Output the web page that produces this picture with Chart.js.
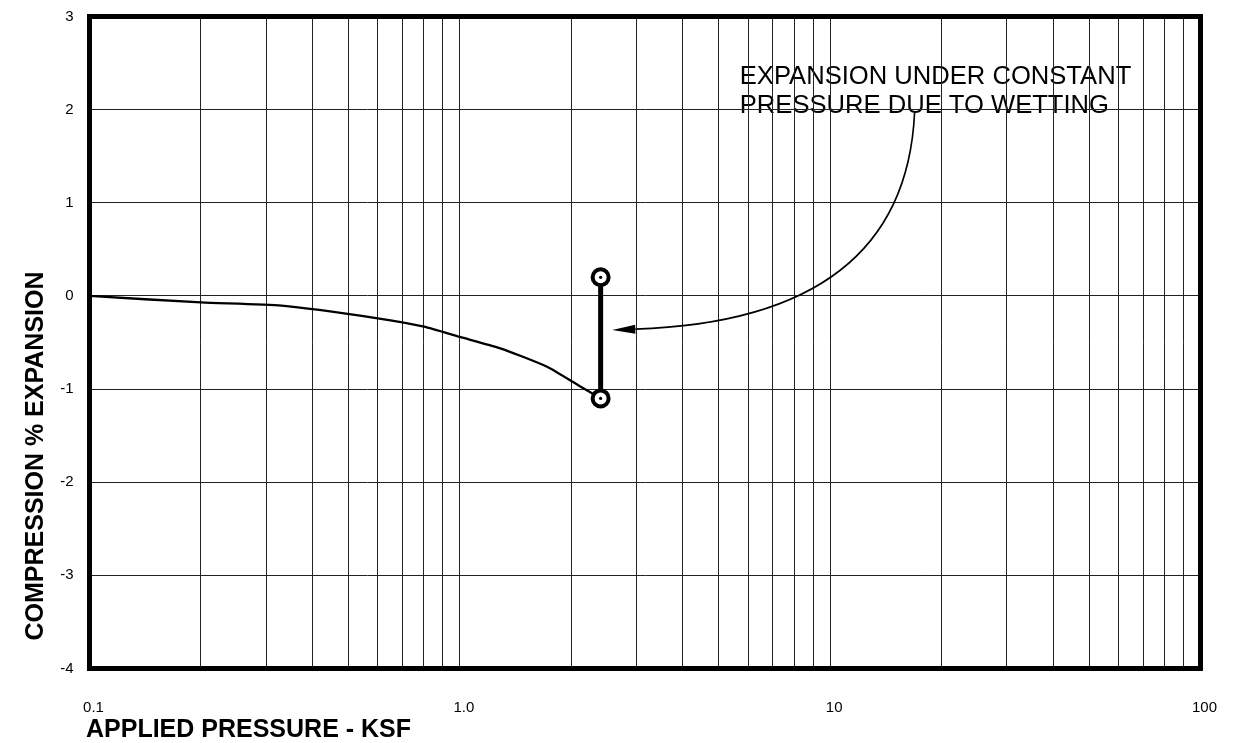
<!DOCTYPE html>
<html>
<head>
<meta charset="utf-8">
<script src="https://cdn.jsdelivr.net/npm/chart.js@4/dist/chart.umd.min.js"></script>
<style>
  body { margin: 0; background: #fff; }
  canvas { display: block; }
</style>
</head>
<body>
<canvas id="myChart" width="1235" height="743"></canvas>
<script>
'use strict'

// consolidation / swell test curve (pressure in ksf, strain in %)
const pressure = [0.1, 0.2, 0.33, 0.6, 0.8, 1.0, 1.28, 1.72, 2.11, 2.4];
const strain   = [0, -0.07, -0.105, -0.24, -0.33, -0.44, -0.56, -0.76, -0.97, -1.1];

// wetting step at constant pressure
const wetPressure = [2.4, 2.4];
const wetStrain   = [-1.1, 0.2];

// axis ticks
const xGrid = [0.1, 0.2, 0.3, 0.4, 0.5, 0.6, 0.7, 0.8, 0.9,
               1, 2, 3, 4, 5, 6, 7, 8, 9,
               10, 20, 30, 40, 50, 60, 70, 80, 90, 100];
const xLabelValues = [0.1, 1, 10, 100];
const xLabelText   = ['0.1', '1.0', '10', '100'];
const yTicks = [-4, -3, -2, -1, 0, 1, 2, 3];

// note text and arrow, anchored in data units
const noteLines = ['EXPANSION UNDER CONSTANT', 'PRESSURE DUE TO WETTING'];
const noteX = 5.7;
const noteY = [2.28, 1.965];
const arrowFrom = {x: 16.9, y: 1.965};
const arrowCtrl = {x: 15.9, y: -0.26};
const arrowTo   = {x: 2.58, y: -0.365};

const FONT = "'Liberation Sans', Arial, Helvetica, sans-serif";

function toPts(xs, ys) {
  return xs.map((x, i) => ({x: x, y: ys[i]}));
}

function noOverhang(scale) {
  scale.paddingTop = 0;
  scale.paddingBottom = 0;
  scale.paddingLeft = 0;
  scale.paddingRight = 0;
}

const extras = {
  id: 'extras',
  beforeDraw(chart) {
    const ctx = chart.ctx;
    const xs = chart.scales.x, ys = chart.scales.y;
    ctx.save();
    ctx.fillStyle = '#000';
    ctx.font = '25.6px ' + FONT;
    ctx.textBaseline = 'alphabetic';
    ctx.textAlign = 'left';
    noteLines.forEach((t, i) => {
      ctx.fillText(t, xs.getPixelForValue(noteX), ys.getPixelForValue(noteY[i]));
    });
    ctx.restore();
  },
  afterDatasetsDraw(chart) {
    const ctx = chart.ctx;
    const xs = chart.scales.x, ys = chart.scales.y;
    const p0 = {x: xs.getPixelForValue(arrowFrom.x), y: ys.getPixelForValue(arrowFrom.y)};
    const c  = {x: xs.getPixelForValue(arrowCtrl.x), y: ys.getPixelForValue(arrowCtrl.y)};
    const tip = {x: xs.getPixelForValue(arrowTo.x), y: ys.getPixelForValue(arrowTo.y)};
    const headLen = 23;
    const ang = Math.atan2(tip.y - c.y, tip.x - c.x);
    const base = {x: tip.x - headLen * Math.cos(ang), y: tip.y - headLen * Math.sin(ang)};
    ctx.save();
    ctx.strokeStyle = '#000';
    ctx.lineWidth = 1.6;
    ctx.beginPath();
    ctx.moveTo(p0.x, p0.y);
    ctx.quadraticCurveTo(c.x, c.y, base.x, base.y);
    ctx.stroke();
    // head
    const w = 4.5;
    ctx.fillStyle = '#000';
    ctx.beginPath();
    ctx.moveTo(tip.x, tip.y);
    ctx.lineTo(base.x + w * Math.sin(ang), base.y - w * Math.cos(ang));
    ctx.lineTo(base.x - w * Math.sin(ang), base.y + w * Math.cos(ang));
    ctx.closePath();
    ctx.fill();
    ctx.restore();
  },
  afterDraw(chart) {
    const ctx = chart.ctx;
    const a = chart.chartArea;
    ctx.save();
    // heavy frame
    ctx.strokeStyle = '#000';
    ctx.lineWidth = 5;
    ctx.strokeRect(a.left, a.top, a.right - a.left, a.bottom - a.top);
    // axis titles
    ctx.fillStyle = '#000';
    ctx.font = 'bold 25px ' + FONT;
    ctx.textAlign = 'left';
    ctx.textBaseline = 'alphabetic';
    ctx.fillText('APPLIED PRESSURE - KSF', 86, 737);
    ctx.translate(43, 456);
    ctx.rotate(-Math.PI / 2);
    ctx.textAlign = 'center';
    ctx.fillText('COMPRESSION % EXPANSION', 0, 0);
    ctx.restore();
  }
};

const myChart = new Chart(document.getElementById('myChart'), {
  type: 'line',
  data: {
    datasets: [
      {
        // centre dots of the markers
        data: toPts(wetPressure, wetStrain),
        showLine: false,
        pointRadius: 1.6,
        pointBackgroundColor: '#000',
        pointBorderWidth: 0,
        order: 0
      },
      {
        data: toPts(wetPressure, wetStrain),
        borderColor: '#000',
        borderWidth: 5,
        pointRadius: 8,
        pointBorderWidth: 4,
        pointBorderColor: '#000',
        pointBackgroundColor: '#fff',
        order: 1
      },
      {
        data: toPts(pressure, strain),
        borderColor: '#000',
        borderWidth: 2.3,
        pointRadius: 0,
        tension: 0.2,
        order: 2
      }
    ]
  },
  options: {
    responsive: false,
    animation: false,
    events: [],
    layout: { padding: { top: 16.5, right: 34.5, left: 0, bottom: 0 } },
    plugins: { legend: { display: false }, tooltip: { enabled: false } },
    scales: {
      x: {
        type: 'logarithmic',
        min: 0.1,
        max: 100,
        afterBuildTicks(scale) {
          scale.ticks = xGrid.map(v => ({value: v}));
        },
        afterFit(scale) { scale.height = 74.5; noOverhang(scale); },
        ticks: {
          autoSkip: false,
          maxRotation: 0,
          padding: 30,
          labelOffset: 4,
          color: '#000',
          font: { family: FONT, size: 15 },
          callback(value) {
            const i = xLabelValues.findIndex(v => Math.abs(v - value) < 1e-9);
            return i >= 0 ? xLabelText[i] : '';
          }
        },
        grid: { color: '#222', lineWidth: 1, drawTicks: false },
        border: { display: false }
      },
      y: {
        type: 'linear',
        min: -4,
        max: 3,
        afterBuildTicks(scale) {
          scale.ticks = yTicks.map(v => ({value: v}));
        },
        afterFit(scale) { scale.width = 89.5; noOverhang(scale); },
        ticks: {
          padding: 16,
          color: '#000',
          font: { family: FONT, size: 15 }
        },
        grid: { color: '#222', lineWidth: 1, drawTicks: false },
        border: { display: false }
      }
    }
  },
  plugins: [extras]
});
</script>
</body>
</html>
